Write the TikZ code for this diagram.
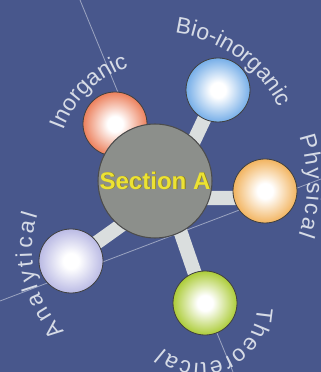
\documentclass[tikz,border=0pt]{standalone}
\usepackage{fontspec}
\setmainfont{Liberation Sans}
\usetikzlibrary{decorations.text}
\definecolor{bgblue}{RGB}{72,87,140}
\definecolor{hubgray}{RGB}{140,143,139}
\definecolor{barwhite}{RGB}{218,222,222}
\definecolor{labelgray}{RGB}{214,219,230}
\definecolor{secyellow}{RGB}{236,226,52}
\definecolor{secshadow}{RGB}{140,128,20}
\definecolor{inorgcol}{RGB}{236,128,92}
\definecolor{biocol}{RGB}{118,174,232}
\definecolor{physcol}{RGB}{242,180,96}
\definecolor{analcol}{RGB}{186,186,228}
\definecolor{theocol}{RGB}{172,204,56}
\colorlet{ballcol}{white}
\pgfdeclareradialshading[ballcol]{glossy}{\pgfpoint{0bp}{0bp}}{%
  color(0bp)=(white); color(6bp)=(white); color(25bp)=(ballcol); color(50bp)=(ballcol)}
\pgfdeclarelayer{back}
\pgfdeclarelayer{bars}
\pgfsetlayers{back,bars,main}
\newcommand{\labelfont}{\fontsize{19.5}{22}\selectfont}
\newcommand{\embossed}[1]{\rlap{\hspace{0.7pt}\raisebox{-0.7pt}{\color{secshadow}#1}}#1}
\begin{document}
\begin{tikzpicture}[x=0.03cm,y=0.03cm]
      \tikzset{ball/.style={circle, draw=black!75, line width=0.7pt, minimum size=1.92cm, inner sep=0pt,
                 shade, shading=glossy, /utils/exec={\colorlet{ballcol}{#1}}},
               hub/.style={circle, draw=black!70, line width=0.9pt, fill=hubgray, minimum size=3.42cm, inner sep=0pt,
                 text=secyellow, font=\fontsize{20.5}{23}\selectfont\bfseries},
               bar/.style={draw=barwhite, line width=12pt},
               guide/.style={draw=white!45!bgblue, line width=0.7pt},
               arclabel/.style={decorate, decoration={text along path, text align={fit to path},
                 text color=labelgray, text={|\labelfont|#1}}}}
      \useasboundingbox (0,0) rectangle (321,372);
%% Backdrop
      \begin{pgfonlayer}{back}
        \fill[bgblue] (0,0) rectangle (321,372);
        \coordinate (g1a) at (80,372);
        \coordinate (g1b) at (233,0);
        \coordinate (g2a) at (0,71);
        \coordinate (g2b) at (321,193);
        \draw[guide] (g1a) -- (g1b);
        \draw[guide] (g2a) -- (g2b);
      \end{pgfonlayer}
%% Balls
      \node[ball=inorgcol] (inorg) at (115,248) {};
      \node[hub] (sec) at (155,191) {\embossed{Section A}};
      \node[ball=biocol] (bio) at (218,282) {};
      \node[ball=physcol] (phys) at (265,181) {};
      \node[ball=analcol] (analyt) at (71,111) {};
      \node[ball=theocol] (theo) at (205,69) {};
%Bars
      \begin{pgfonlayer}{bars}
        \draw[bar] (inorg.center) -- (sec.center);
        \draw[bar] (bio.center) -- ([xshift=0.6cm]sec.center);
        \draw[bar] ([yshift=-0.21cm]phys.center) -- ([yshift=-0.51cm]sec.center);
        \draw[bar] (analyt.center) -- ([yshift=-0.6cm]sec.center);
        \draw[bar] (theo.center) -- ([xshift=0.24cm]sec.center);
      \end{pgfonlayer}
%Labels
      \path[arclabel=Inorganic] (161,206) ++(160:104) arc[start angle=160, end angle=109, radius=104];
      \path[arclabel=Bio-inorganic] (157,203) ++(82.5:137) arc[start angle=82.5, end angle=28, radius=137];
      \path[arclabel=Physical] (155,187) ++(18.4:152) arc[start angle=18.4, end angle=-19.4, radius=152];
      \path[arclabel=Analytical] (150,122) ++(223.4:118) arc[start angle=223.4, end angle=162.3, radius=118];
      \path[arclabel=Theoretical] (201,65) ++(0:56) arc[start angle=0, end angle=-132, radius=56];
\end{tikzpicture}
\end{document}
